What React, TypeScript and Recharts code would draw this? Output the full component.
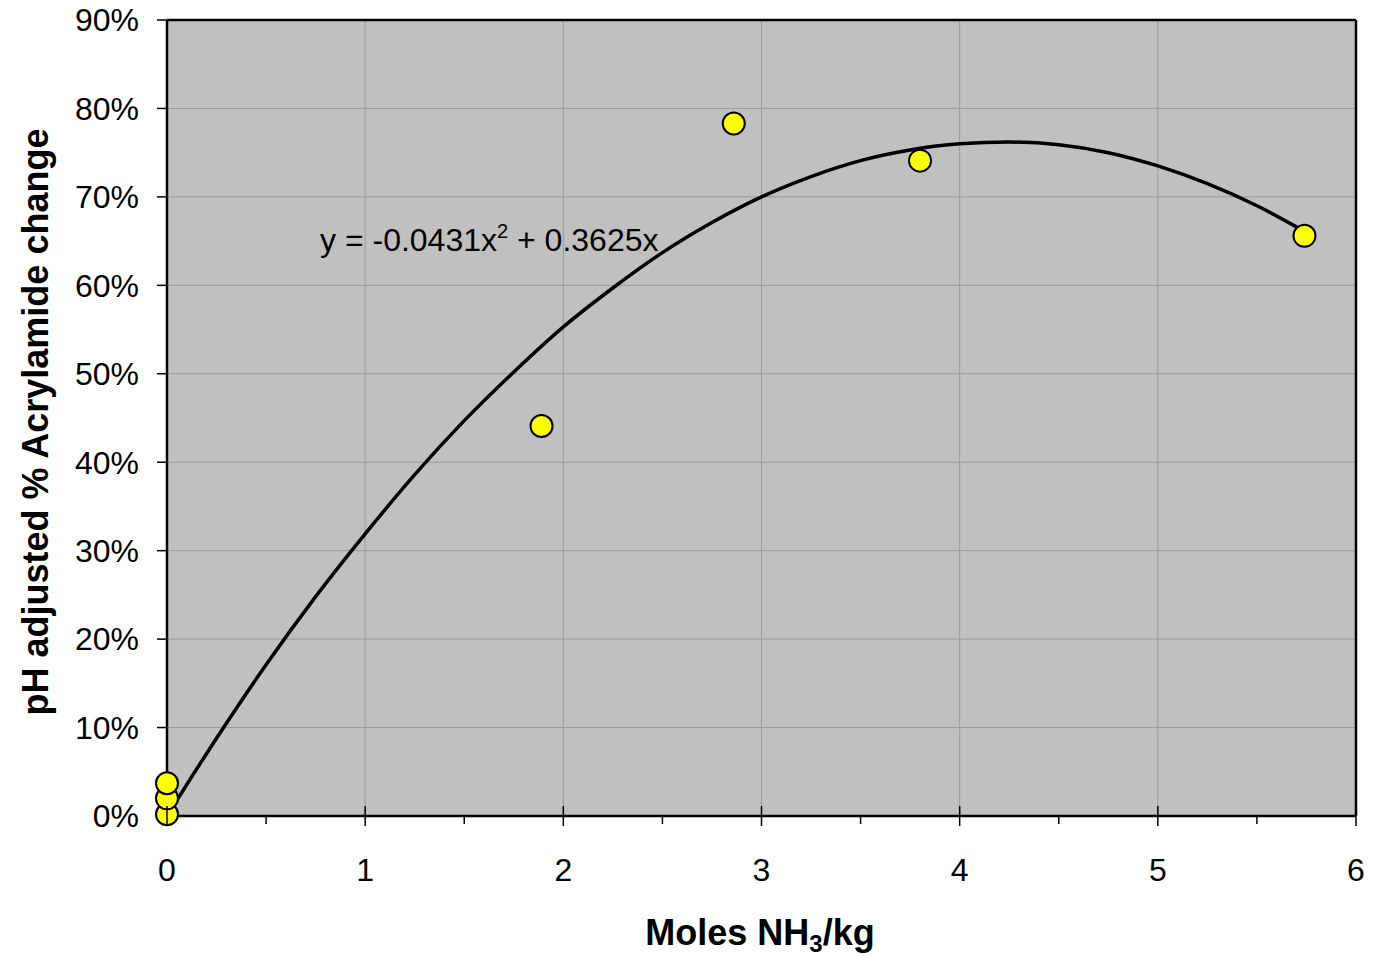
import {
    ComposedChart,
    Scatter,
    Line,
    XAxis,
    YAxis,
    CartesianGrid,
    ReferenceLine,
} from 'recharts';

// --- Data ---
const measured = [
    { x: 0, y: 0.002 },
    { x: 0, y: 0.02 },
    { x: 0, y: 0.037 },
    { x: 1.89, y: 0.441 },
    { x: 2.86, y: 0.783 },
    { x: 3.8, y: 0.741 },
    { x: 5.74, y: 0.656 },
];

// fitted polynomial trendline
const trendX = [0, 0.25, 0.5, 0.75, 1, 1.25, 1.5, 1.75, 2, 2.25, 2.5, 2.75, 3, 3.25, 3.5, 3.75, 4, 4.25, 4.5, 4.75, 5, 5.25, 5.5, 5.74];
const trendY = [0, 0.088, 0.171, 0.248, 0.319, 0.386, 0.447, 0.502, 0.553, 0.597, 0.637, 0.671, 0.7, 0.723, 0.741, 0.753, 0.76, 0.762, 0.759, 0.75, 0.735, 0.715, 0.69, 0.661];
const trend = trendX.map((x, i) => ({ x, y: trendY[i] }));

const xTicks = [0, 0.5, 1, 1.5, 2, 2.5, 3, 3.5, 4, 4.5, 5, 5.5, 6];
const xGrid = [0, 1, 2, 3, 4, 5, 6];
const yTicks = [0, 0.1, 0.2, 0.3, 0.4, 0.5, 0.6, 0.7, 0.8, 0.9];

const equation = 'y = -0.0431x';
const equationTail = ' + 0.3625x';
const xTitle = 'Moles NH';
const yTitle = 'pH adjusted % Acrylamide change';

// --- Theme ---
const FONT = '"Liberation Sans", Arial, sans-serif';
const W = 1370;
const H = 956;

function XTick(props: any) {
    const { x, y, payload } = props;
    const major = Number.isInteger(payload.value);
    return (
        <g>
            {major ? (
                <line x1={x} x2={x} y1={y - 10} y2={y + 10} stroke="#000" strokeWidth={1.5} />
            ) : (
                <line x1={x} x2={x} y1={y} y2={y + 8} stroke="#000" strokeWidth={1.5} />
            )}
            {major && (
                <text x={x} y={y + 65} textAnchor="middle" fontSize={32} fontFamily={FONT} fill="#000">
                    {payload.value}
                </text>
            )}
        </g>
    );
}

function Dot(props: any) {
    const { cx, cy } = props;
    return <circle cx={cx} cy={cy} r={11} fill="#FFFF00" stroke="#000" strokeWidth={2} />;
}

export default function App() {
    return (
        <div style={{ position: 'relative', width: W, height: H, marginTop: -8, fontFamily: FONT }}>
            <ComposedChart width={W} height={H} margin={{ top: 20, right: 22, left: 0, bottom: 0 }}>
                <CartesianGrid fill="#C0C0C0" stroke="#999999" strokeWidth={1} verticalValues={xGrid} />
                <XAxis
                    type="number"
                    dataKey="x"
                    domain={[0, 6]}
                    ticks={xTicks}
                    interval={0}
                    height={140}
                    tickSize={0}
                    tickMargin={0}
                    tickLine={false}
                    tick={<XTick />}
                    axisLine={{ stroke: '#000', strokeWidth: 2.5 }}
                />
                <YAxis
                    type="number"
                    dataKey="y"
                    domain={[0, 0.9]}
                    ticks={yTicks}
                    interval={0}
                    width={159}
                    tickSize={10}
                    tickMargin={18}
                    tickFormatter={(v: number) => `${Math.round(v * 100)}%`}
                    tick={{ fontSize: 32, fill: '#000', fontFamily: FONT }}
                    tickLine={{ stroke: '#000', strokeWidth: 1.5 }}
                    axisLine={{ stroke: '#000', strokeWidth: 2.5 }}
                />
                <ReferenceLine y={0.9} stroke="#000" strokeWidth={2.5} />
                <ReferenceLine x={6} stroke="#000" strokeWidth={2.5} />
                <Scatter data={measured} shape={<Dot />} isAnimationActive={false} />
                <Line
                    data={trend}
                    dataKey="y"
                    type="monotone"
                    stroke="#000"
                    strokeWidth={3.5}
                    dot={false}
                    activeDot={false}
                    isAnimationActive={false}
                />
            </ComposedChart>
            <svg
                width={W}
                height={H}
                style={{ position: 'absolute', left: 0, top: 0, pointerEvents: 'none' }}
            >
                <text x={312} y={251} fontSize={32} fontFamily={FONT} fill="#000">
                    {equation}
                    <tspan fontSize={20} dy={-13}>2</tspan>
                    <tspan dy={13}>{equationTail}</tspan>
                </text>
                <text x={752} y={945} textAnchor="middle" fontSize={36} fontWeight="bold" fontFamily={FONT} fill="#000">
                    {xTitle}
                    <tspan fontSize={24} dy={7}>3</tspan>
                    <tspan dy={-7}>/kg</tspan>
                </text>
                <text
                    transform="translate(40,422) rotate(-90)"
                    textAnchor="middle"
                    fontSize={36}
                    fontWeight="bold"
                    fontFamily={FONT}
                    fill="#000"
                >
                    {yTitle}
                </text>
            </svg>
        </div>
    );
}
